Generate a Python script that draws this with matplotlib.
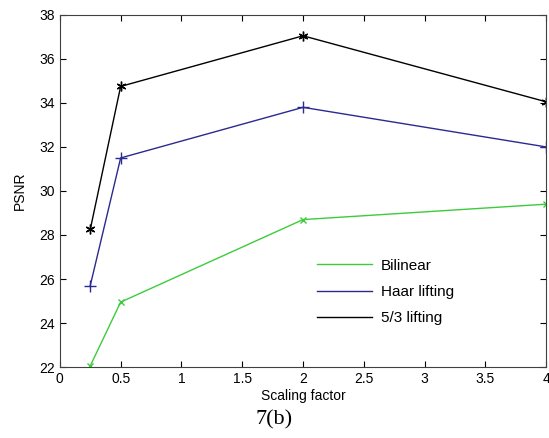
import matplotlib
matplotlib.use("Agg")
import matplotlib.pyplot as plt

scale = [0.25, 0.5, 2, 4]
bilinear = [22.05, 24.95, 28.7, 29.4]
haar = [25.7, 31.5, 33.8, 32.0]
lifting53 = [28.25, 34.75, 37.05, 34.05]

xticks = [0, 0.5, 1, 1.5, 2, 2.5, 3, 3.5, 4]
yticks = [22, 24, 26, 28, 30, 32, 34, 36, 38]

plt.rcParams['font.family'] = ['Liberation Sans', 'DejaVu Sans']

fig = plt.figure(figsize=(5.49, 4.38), dpi=100)
ax = fig.add_axes([0.109, 0.162, 0.886, 0.804])

ax.plot(scale, bilinear, c='#3ccc3c', lw=1, marker='x', ms=5, label='Bilinear')
ax.plot(scale, haar, c='#2a2a90', lw=1, marker='+', ms=8, label='Haar lifting')
ax.plot(scale, lifting53, c='black', lw=1, marker=(6, 2, 0), ms=7, mew=1.0,
        label='5/3 lifting')

ax.set_xlim(0, 4)
ax.set_ylim(22, 38)
ax.set_xticks(xticks)
ax.set_xticklabels(['0', '0.5', '1', '1.5', '2', '2.5', '3', '3.5', '4'])
ax.set_yticks(yticks)
ax.tick_params(direction='in', top=True, right=True, labelsize=10, length=4)
for s in ax.spines.values():
    s.set_color('#404040')

ax.set_xlabel('Scaling factor', fontsize=10, labelpad=2)
ax.set_ylabel('PSNR', fontsize=10, labelpad=9)

leg = ax.legend(loc='lower left', bbox_to_anchor=(0.5, 0.08), frameon=False,
                handlelength=3.6, fontsize=11, labelspacing=0.8, handletextpad=0.6)
for h in leg.legend_handles:
    h.set_marker('')

fig.text(0.5, 0.03, '7(b)', ha='center', fontsize=16,
         family=['Liberation Serif', 'DejaVu Serif'])

fig.savefig('out.png', dpi=100)
